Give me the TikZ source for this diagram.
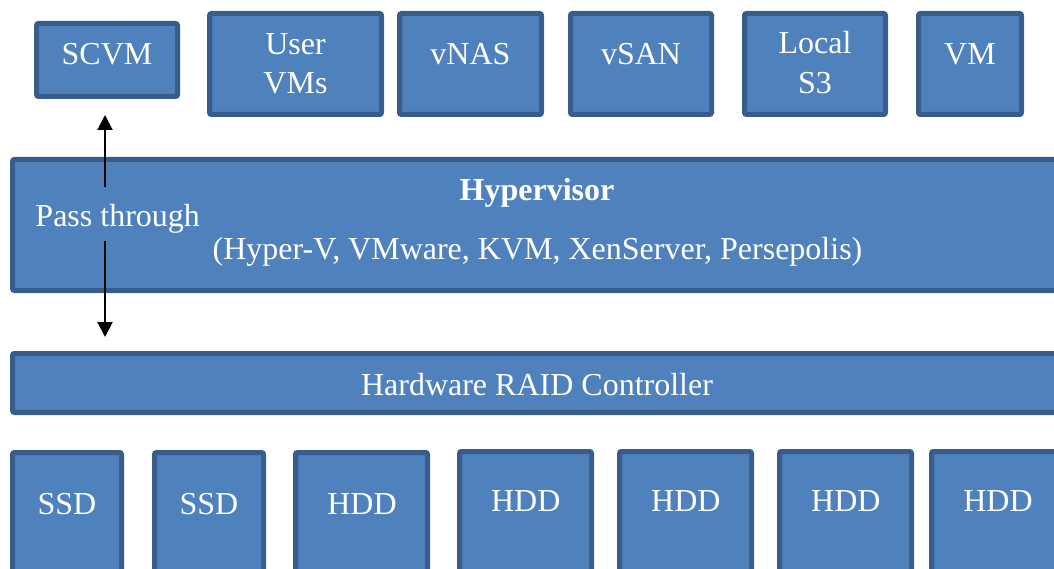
\documentclass[tikz,border=0pt]{standalone}
\usepackage{fontspec}
\setmainfont{Liberation Serif}
\usetikzlibrary{arrows.meta}
\definecolor{boxfill}{HTML}{4F81BD}
\definecolor{boxline}{HTML}{385D8A}
\begin{document}
\begin{tikzpicture}[x=1pt,y=-1pt,
  box/.style={draw=boxline, fill=boxfill, line width=5pt, rounded corners=2pt,
              inner sep=0pt, outer sep=2.5pt},
  lbl/.style={text=white, font=\fontsize{32}{40}\selectfont, anchor=base, inner sep=0pt},
  arr/.style={line width=2pt, -{Triangle[length=15pt,width=15pt]}}]
\clip (0,0) rectangle (1054,569);

% guest VMs on top of the hypervisor
\node[box, minimum width=141pt, minimum height=73pt]  (scvm) at (107,60)   {};
\node[box, minimum width=172pt, minimum height=101pt] (uvm)  at (295.5,64) {};
\node[box, minimum width=142pt, minimum height=101pt] (vnas) at (470.5,64) {};
\node[box, minimum width=141pt, minimum height=101pt] (vsan) at (641,64)   {};
\node[box, minimum width=141pt, minimum height=101pt] (ls3)  at (815,64)   {};
\node[box, minimum width=103pt, minimum height=101pt] (vm)   at (970,64)   {};

\node[lbl] (t-scvm) at (107,64.5)   {SCVM};
\node[lbl] (t-uvm1) at (295.5,54.5) {User};
\node[lbl] (t-uvm2) at (295.5,94)   {VMs};
\node[lbl] (t-vnas) at (470.5,64.5) {vNAS};
\node[lbl] (t-vsan) at (641,64.5)   {vSAN};
\node[lbl] (t-ls31) at (815,54)     {Local};
\node[lbl] (t-ls32) at (815,94)     {S3};
\node[lbl] (t-vm)   at (970,64.5)   {VM};

% hypervisor layer
\node[box, minimum width=1049pt, minimum height=131pt] (hyp) at (537,225) {};
\node[lbl, font=\fontsize{32}{40}\selectfont\bfseries] (t-hyp) at (537,201) {Hypervisor};
\node[lbl] (t-hyps) at (537.5,260) {(Hyper-V, VMware, KVM, XenServer, Persepolis)};
\node[lbl] (t-pass) at (117.7,226.7) {Pass through};

% RAID controller
\node[box, minimum width=1049pt, minimum height=59pt] (raid) at (537,383) {};
\node[lbl] (t-raid) at (537,395) {Hardware RAID Controller};

% disks
\node[box, minimum width=109pt, minimum height=145pt] (ssd1) at (67,525)     {};
\node[box, minimum width=109pt, minimum height=145pt] (ssd2) at (209,525)    {};
\node[box, minimum width=132pt, minimum height=145pt] (hdd1) at (361.5,525)  {};
\node[box, minimum width=132pt, minimum height=145pt] (hdd2) at (525.5,524)  {};
\node[box, minimum width=132pt, minimum height=145pt] (hdd3) at (685.5,524)  {};
\node[box, minimum width=132pt, minimum height=145pt] (hdd4) at (845.5,524)  {};
\node[box, minimum width=132pt, minimum height=145pt] (hdd5) at (997.5,524)  {};

\node[lbl] (t-ssd1) at (67,514)     {SSD};
\node[lbl] (t-ssd2) at (209,514)    {SSD};
\node[lbl] (t-hdd1) at (362,514)    {HDD};
\node[lbl] (t-hdd2) at (525.8,511.5) {HDD};
\node[lbl] (t-hdd3) at (685.8,511.5) {HDD};
\node[lbl] (t-hdd4) at (845.8,511.5) {HDD};
\node[lbl] (t-hdd5) at (998,511.5)   {HDD};

% pass-through path from the SCVM down to the RAID controller
\coordinate (pt-top) at (105,187);
\coordinate (pt-bot) at (105,241);
\draw[arr, shorten >=16pt] (pt-top) -- (scvm.south -| pt-top);
\draw[arr, shorten >=14pt] (pt-bot) -- (raid.north -| pt-bot);
\end{tikzpicture}
\end{document}
